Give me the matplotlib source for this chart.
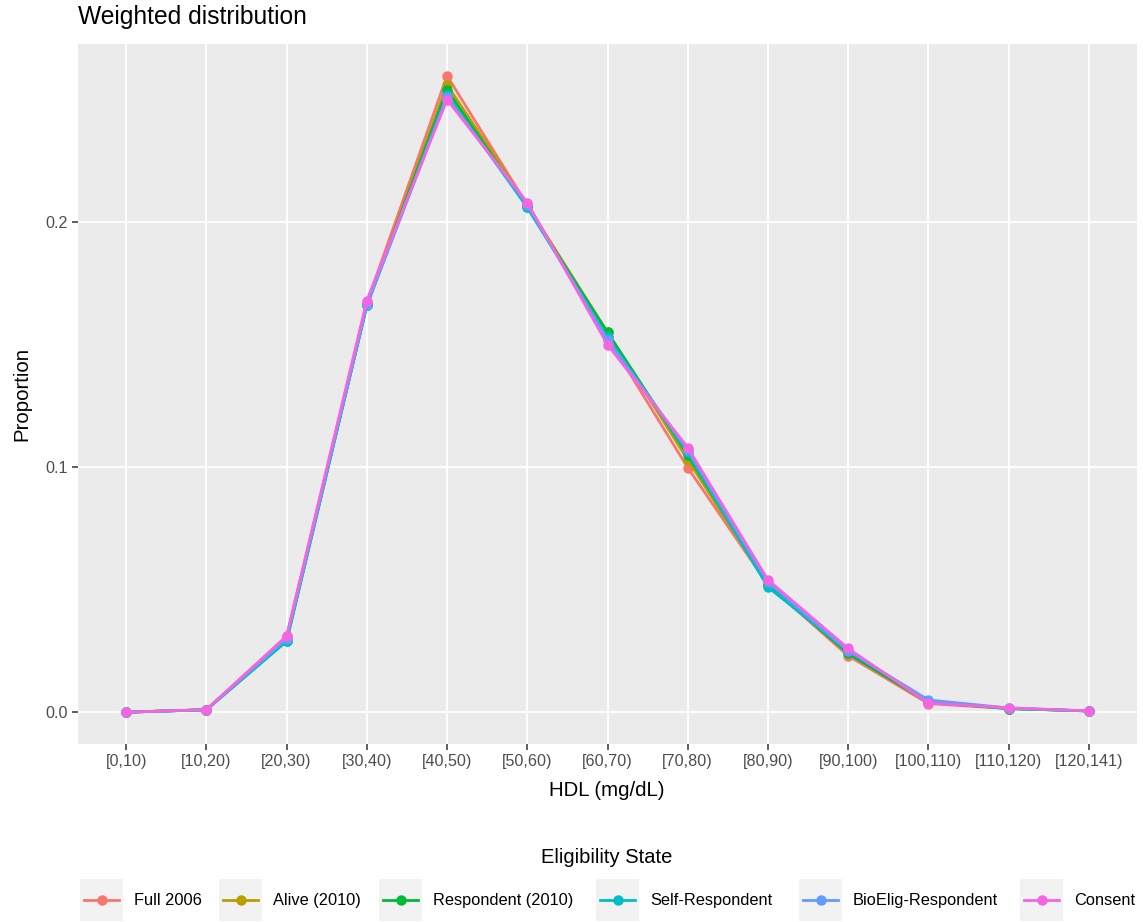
import numpy as np
import matplotlib
matplotlib.use("Agg")
import matplotlib.pyplot as plt
from matplotlib.lines import Line2D
from matplotlib.patches import Rectangle

plt.rcParams["font.family"] = ["Liberation Sans", "DejaVu Sans"]

# ─── data ──────────────────────────────────────────────────────
bins = ["[0,10)", "[10,20)", "[20,30)", "[30,40)", "[40,50)", "[50,60)",
        "[60,70)", "[70,80)", "[80,90)", "[90,100)", "[100,110)",
        "[110,120)", "[120,141)"]
groups = ["Full 2006", "Alive (2010)", "Respondent (2010)",
          "Self-Respondent", "BioElig-Respondent", "Consent"]
colors = ["#F8766D", "#B79F00", "#00BA38", "#00BFC4", "#619CFF", "#F564E3"]

full_2006   = [0, 0.001, 0.031, 0.167, 0.2597, 0.207, 0.153, 0.0998, 0.052, 0.023, 0.0035, 0.0015, 0.0005]
alive_2010  = [0, 0.001, 0.030, 0.166, 0.256, 0.207, 0.155, 0.103, 0.052, 0.024, 0.0040, 0.0015, 0.0005]
resp_2010   = [0, 0.001, 0.029, 0.166, 0.254, 0.206, 0.155, 0.105, 0.052, 0.024, 0.0040, 0.0015, 0.0005]
self_resp   = [0, 0.001, 0.029, 0.166, 0.252, 0.206, 0.153, 0.106, 0.051, 0.025, 0.0045, 0.0015, 0.0005]
bioelig     = [0, 0.001, 0.030, 0.166, 0.251, 0.207, 0.152, 0.107, 0.053, 0.025, 0.0050, 0.0017, 0.0005]
consent     = [0, 0.001, 0.031, 0.168, 0.250, 0.208, 0.150, 0.108, 0.054, 0.026, 0.0037, 0.0018, 0.0005]
series = [full_2006, alive_2010, resp_2010, self_resp, bioelig, consent]

yticks = [0.0, 0.1, 0.2]
ytick_labels = ["0.0", "0.1", "0.2"]

W, H = 1143, 922

# ─── figure ────────────────────────────────────────────────────
fig = plt.figure(figsize=(W / 100, H / 100), dpi=100)
ax = fig.add_axes([78 / W, 1 - 744 / H, (1137 - 78) / W, 700 / H])
ax.set_facecolor("#EBEBEB")

x = np.arange(len(bins))
for vals, col in zip(series, colors):
    ax.plot(x, vals, color=col, lw=2, marker="o", ms=6.5, zorder=3)

ax.set_xlim(-0.6, len(bins) - 1 + 0.6)
ymax = max(max(s) for s in series)
ax.set_ylim(-0.05 * ymax, ymax * 1.05)
ax.set_xticks(x)
ax.set_xticklabels(bins)
ax.set_yticks(yticks)
ax.set_yticklabels(ytick_labels)
ax.grid(True, color="white", lw=1.3, zorder=0)
ax.set_axisbelow(True)
for sp in ax.spines.values():
    sp.set_visible(False)
ax.tick_params(colors="#333333", labelcolor="#4D4D4D", labelsize=11.6,
               length=4, width=1.1, pad=3)

# axis titles / plot title
fig.text(607 / W, 1 - 791 / H, "HDL (mg/dL)", fontsize=14.7,
         ha="center", va="center")
fig.text(22 / W, 1 - 394 / H, "Proportion", fontsize=14.7, rotation=90,
         ha="center", va="center")
fig.text(78 / W, 1 - 17 / H, "Weighted distribution", fontsize=17.7,
         ha="left", va="center")

# ─── legend (ggplot-style, bottom) ─────────────────────────────
fig.text(607 / W, 1 - 857 / H, "Eligibility State", fontsize=14.5,
         ha="center", va="center")
key_x = [80, 219, 379, 596, 799, 1020]
key_w, key_h = 43, 42
ly = 900
for kx, lab, col in zip(key_x, groups, colors):
    fig.add_artist(Rectangle((kx / W, 1 - (ly + key_h / 2) / H),
                             key_w / W, key_h / H,
                             transform=fig.transFigure,
                             facecolor="#F2F2F2", edgecolor="none"))
    fig.add_artist(Line2D([(kx + 4) / W, (kx + key_w - 4) / W],
                          [1 - ly / H] * 2, transform=fig.transFigure,
                          color=col, lw=2))
    fig.add_artist(Line2D([(kx + key_w / 2) / W], [1 - ly / H],
                          transform=fig.transFigure, color=col,
                          marker="o", ms=6.5, lw=0))
    fig.text((kx + key_w + 11) / W, 1 - ly / H, lab, fontsize=11.8,
             ha="left", va="center")

fig.savefig("out.png", dpi=100)
